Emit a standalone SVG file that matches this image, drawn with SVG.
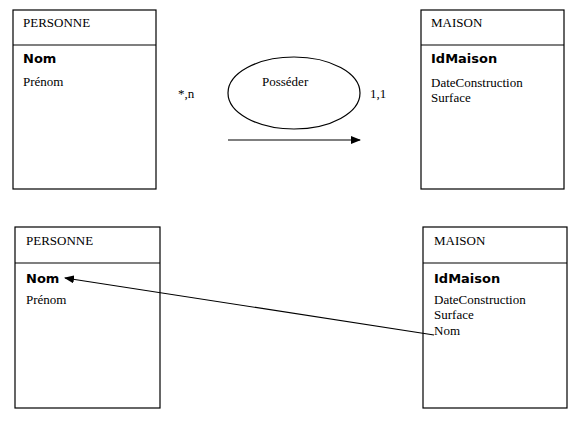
<svg xmlns="http://www.w3.org/2000/svg" width="582" height="424" viewBox="0 0 582 424">
<defs>
<style>
.box{fill:#fff;stroke:#000;stroke-width:1.2}
.t{font-family:"Liberation Serif",serif;font-size:13px;fill:#000}
.b{font-family:"DejaVu Sans",sans-serif;font-weight:bold;font-size:13px;fill:#000}
.ln{stroke:#000;stroke-width:1.2;fill:none}
</style>
<marker id="ah" markerWidth="10" markerHeight="8" refX="9" refY="4" orient="auto" markerUnits="userSpaceOnUse">
<path d="M0,0 L10,4 L0,8 Z" fill="#000"/>
</marker>
</defs>
<rect width="582" height="424" fill="#fff"/>
<g id="personne1">
<rect class="box" x="13" y="10" width="143" height="179"/>
<line class="ln" x1="13" y1="45" x2="156" y2="45"/>
<text class="t" x="23" y="27">PERSONNE</text>
<text class="b" x="23" y="63">Nom</text>
<text class="t" x="23" y="86">Prénom</text>
</g>
<g id="maison1">
<rect class="box" x="421" y="10" width="143" height="179"/>
<line class="ln" x1="421" y1="45" x2="564" y2="45"/>
<text class="t" x="431" y="27">MAISON</text>
<text class="b" x="431" y="63">IdMaison</text>
<text class="t" x="431" y="87">DateConstruction</text>
<text class="t" x="431" y="102">Surface</text>
</g>
<g id="posseder">
<ellipse class="ln" cx="294" cy="93" rx="66" ry="36"/>
<text class="t" x="262" y="86">Posséder</text>
</g>
<g id="personne2">
<rect class="box" x="15" y="227" width="145" height="181"/>
<line class="ln" x1="15" y1="263" x2="160" y2="263"/>
<text class="t" x="26" y="245">PERSONNE</text>
<text class="b" x="26" y="283">Nom</text>
<text class="t" x="26" y="304">Prénom</text>
</g>
<g id="maison2">
<rect class="box" x="423" y="227" width="144" height="181"/>
<line class="ln" x1="423" y1="263" x2="567" y2="263"/>
<text class="t" x="434" y="245">MAISON</text>
<text class="b" x="434" y="283">IdMaison</text>
<text class="t" x="434" y="304">DateConstruction</text>
<text class="t" x="434" y="319">Surface</text>
<text class="t" x="434" y="335">Nom</text>
</g>
<g id="connectors">
<line class="ln" x1="228" y1="140" x2="360" y2="140" marker-end="url(#ah)"/>
<line class="ln" x1="434" y1="335" x2="65" y2="278" marker-end="url(#ah)"/>
<text class="t" x="178" y="98">*,n</text>
<text class="t" x="370" y="98">1,1</text>
</g>
</svg>
